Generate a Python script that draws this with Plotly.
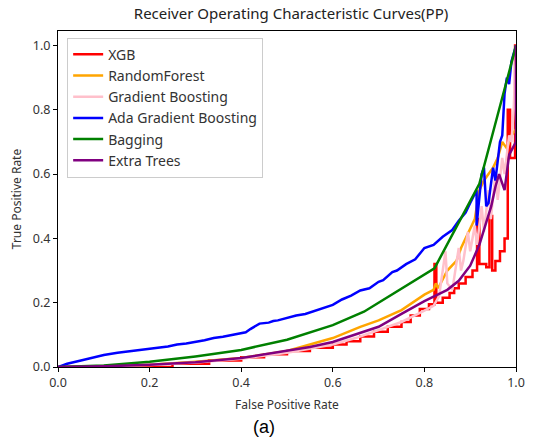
import plotly.graph_objects as go

# ---- data ----
xgb_fpr = [0, 0.25, 0.25, 0.33, 0.33, 0.40, 0.40, 0.45, 0.45, 0.50, 0.50, 0.55, 0.55, 0.60, 0.60, 0.63, 0.63, 0.66, 0.66,
           0.69, 0.69, 0.72, 0.72, 0.75, 0.75, 0.77, 0.77, 0.79, 0.79, 0.81, 0.81, 0.822, 0.822, 0.826, 0.826, 0.84, 0.84,
           0.855, 0.855, 0.865, 0.865, 0.875, 0.875, 0.89, 0.89, 0.905, 0.905, 0.915, 0.915, 0.92, 0.92, 0.935, 0.935,
           0.942, 0.942, 0.948, 0.948, 0.955, 0.955, 0.965, 0.965, 0.975, 0.975, 0.982, 0.982, 0.987, 0.987, 0.998, 0.998, 1.0]
xgb_tpr = [0, 0, 0.01, 0.01, 0.02, 0.02, 0.03, 0.03, 0.04, 0.04, 0.05, 0.05, 0.06, 0.06, 0.07, 0.07, 0.08, 0.08, 0.095,
           0.095, 0.11, 0.11, 0.125, 0.125, 0.14, 0.14, 0.16, 0.16, 0.18, 0.18, 0.195, 0.195, 0.32, 0.32, 0.2, 0.2, 0.215,
           0.215, 0.23, 0.23, 0.245, 0.245, 0.26, 0.26, 0.28, 0.28, 0.30, 0.30, 0.46, 0.46, 0.32, 0.32, 0.31,
           0.31, 0.47, 0.47, 0.30, 0.30, 0.33, 0.33, 0.36, 0.36, 0.40, 0.40, 0.80, 0.80, 0.65, 0.65, 1.0, 1.0]

rf_fpr = [0, 0.1, 0.2, 0.3, 0.4, 0.5, 0.6, 0.66, 0.7, 0.75, 0.8, 0.82, 0.825, 0.83, 0.85, 0.87, 0.88, 0.89, 0.9, 0.91,
          0.92, 0.93, 0.94, 0.95, 0.96, 0.97, 0.98, 0.99, 1.0, 1.0]
rf_tpr = [0, 0.002, 0.007, 0.016, 0.028, 0.05, 0.09, 0.125, 0.145, 0.177, 0.225, 0.24, 0.26, 0.245, 0.3, 0.33, 0.37, 0.4,
          0.43, 0.46, 0.55, 0.58, 0.6, 0.62, 0.65, 0.7, 0.68, 0.72, 0.74, 1.0]

gb_fpr = [0, 0.1, 0.2, 0.3, 0.4, 0.5, 0.6, 0.65, 0.7, 0.75, 0.8, 0.82, 0.832, 0.846, 0.85, 0.861, 0.875, 0.88, 0.885,
          0.895, 0.9, 0.91, 0.915, 0.925, 0.93, 0.94, 0.945, 0.955, 0.96, 0.97, 0.975, 0.985, 0.99, 0.995, 1.0]
gb_tpr = [0, 0.002, 0.006, 0.014, 0.026, 0.044, 0.07, 0.09, 0.115, 0.14, 0.175, 0.19, 0.22, 0.36, 0.26, 0.24, 0.37,
          0.30, 0.33, 0.42, 0.36, 0.44, 0.38, 0.50, 0.42, 0.55, 0.46, 0.60, 0.52, 0.65, 0.60, 0.72, 0.70, 0.80, 1.0]

ada_fpr = [0, 0.02, 0.05, 0.08, 0.1, 0.13, 0.16, 0.2, 0.24, 0.26, 0.28, 0.32, 0.34, 0.36, 0.4, 0.41, 0.42, 0.44, 0.46,
           0.47, 0.48, 0.52, 0.54, 0.56, 0.59, 0.6, 0.62, 0.64, 0.66, 0.68, 0.7, 0.71, 0.73, 0.74, 0.76, 0.78, 0.8, 0.82,
           0.84, 0.86, 0.875, 0.89, 0.9, 0.914, 0.914, 0.925, 0.93, 0.935, 0.94, 0.95, 0.955,
           0.965, 0.97, 0.975, 0.98, 0.985, 0.99, 1.0]
ada_tpr = [0, 0.01, 0.02, 0.03, 0.037, 0.044, 0.049, 0.056, 0.064, 0.07, 0.073, 0.083, 0.09, 0.094, 0.105, 0.108,
           0.118, 0.135, 0.138, 0.143, 0.145, 0.16, 0.165, 0.175, 0.19, 0.193, 0.21, 0.222, 0.238, 0.245, 0.265, 0.27,
           0.295, 0.3, 0.32, 0.335, 0.37, 0.38, 0.405, 0.425, 0.455, 0.48, 0.51, 0.55, 0.44, 0.6, 0.62, 0.5,
           0.51, 0.62, 0.58, 0.7, 0.72, 0.85, 0.9, 0.88, 0.95, 1.0]

bag_fpr = [0, 0.1, 0.2, 0.3, 0.4, 0.5, 0.6, 0.668, 0.822, 0.92, 0.99, 1.0]
bag_tpr = [0, 0.005, 0.016, 0.033, 0.053, 0.085, 0.13, 0.172, 0.307, 0.57, 0.945, 1.0]

et_fpr = [0, 0.1, 0.2, 0.3, 0.4, 0.5, 0.55, 0.6, 0.66, 0.7, 0.75, 0.8, 0.85, 0.875, 0.9, 0.92, 0.935, 0.946, 0.955,
          0.963, 0.975, 0.985, 1.0, 1.0]
et_tpr = [0, 0.002, 0.007, 0.015, 0.028, 0.05, 0.062, 0.078, 0.105, 0.125, 0.165, 0.205, 0.24, 0.268, 0.315, 0.38,
          0.45, 0.5, 0.56, 0.6, 0.55, 0.66, 0.70, 1.0]

series = [
    ("XGB", xgb_fpr, xgb_tpr, "red"),
    ("RandomForest", rf_fpr, rf_tpr, "#FFA500"),
    ("Gradient Boosting", gb_fpr, gb_tpr, "#FFC0CB"),
    ("Ada Gradient Boosting", ada_fpr, ada_tpr, "blue"),
    ("Bagging", bag_fpr, bag_tpr, "green"),
    ("Extra Trees", et_fpr, et_tpr, "#800080"),
]

x_ticks = [0.0, 0.2, 0.4, 0.6, 0.8, 1.0]
y_ticks = [0.0, 0.2, 0.4, 0.6, 0.8, 1.0]

FONT = "Noto Sans"

fig = go.Figure()
for name, x, y, c in series:
    fig.add_trace(go.Scatter(x=x, y=y, mode="lines", name=name,
                             line=dict(color=c, width=2.5)))

fig.update_layout(
    width=534, height=443,
    margin=dict(l=58, r=9, t=31, b=76),
    paper_bgcolor="white", plot_bgcolor="white",
    font=dict(family=FONT, size=12, color="#333333"),
    title=dict(text="Receiver Operating Characteristic Curves(PP)", x=0.545, xanchor="center",
               y=0.97, yanchor="middle", font=dict(family=FONT, size=15, color="#222222")),
    legend=dict(x=0.02, y=0.98, xanchor="left", yanchor="top",
                bordercolor="#cccccc", borderwidth=1, bgcolor="white",
                font=dict(family=FONT, size=14, color="#333333"),
                tracegroupgap=0),
    showlegend=True,
)
fig.update_xaxes(range=[0, 1], tickvals=x_ticks, ticktext=[f"{v:.1f}" for v in x_ticks],
                 showgrid=False, zeroline=False, showline=True, linecolor="black", linewidth=1,
                 mirror=True, ticks="outside", ticklen=4, tickcolor="black",
                 tickfont=dict(size=12.5),
                 title=dict(text="False Positive Rate", font=dict(family=FONT, size=12), standoff=10))
fig.update_yaxes(range=[0, 1.045], tickvals=y_ticks, ticktext=[f"{v:.1f}" for v in y_ticks],
                 showgrid=False, zeroline=False, showline=True, linecolor="black", linewidth=1,
                 mirror=True, ticks="outside", ticklen=4, tickcolor="black",
                 tickfont=dict(size=12.5),
                 title=dict(text="True Positive Rate", font=dict(family=FONT, size=12), standoff=8))

fig.add_annotation(text="(a)", x=0.45, y=-0.18, xref="paper", yref="paper",
                   showarrow=False, xanchor="center", yanchor="middle",
                   font=dict(family="Liberation Sans", size=18, color="black"))

fig.write_html("out.html")
